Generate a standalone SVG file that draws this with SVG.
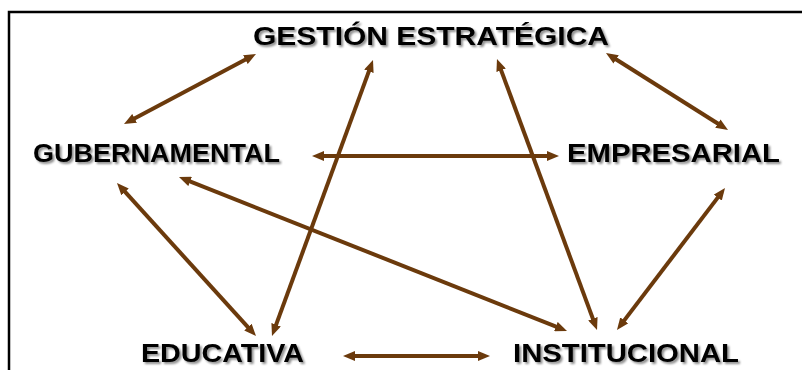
<svg xmlns="http://www.w3.org/2000/svg" width="802" height="370" viewBox="0 0 802 370">
<style>
.lbl{font-family:"Liberation Sans",Arial,sans-serif;font-weight:bold;font-size:25px;fill:#000;filter:url(#shadow)}
.con{stroke:#6b3a0c;stroke-width:4;fill:none;marker-start:url(#ah);marker-end:url(#ah)}
</style>
<defs>
<filter id="shadow" x="-5%" y="-30%" width="110%" height="160%">
<feGaussianBlur in="SourceAlpha" stdDeviation="0.8"/>
<feOffset dx="1.5" dy="1.5" result="b"/>
<feComponentTransfer in="b" result="g"><feFuncA type="linear" slope="0.45"/></feComponentTransfer>
<feMerge><feMergeNode in="g"/><feMergeNode in="SourceGraphic"/></feMerge>
</filter>
<marker id="ah" viewBox="0 0 12 10" refX="5" refY="5" markerWidth="12" markerHeight="10" markerUnits="userSpaceOnUse" orient="auto-start-reverse">
<path d="M0,0 L12,5 L0,10 z" fill="#6b3a0c"/>
</marker>
</defs>
<rect x="9" y="12" width="800" height="370" fill="#fff" stroke="#000" stroke-width="2.5"/>
<g id="connectors">
<line class="con" x1="130.2" y1="120.7" x2="249.8" y2="57.3"/>
<line class="con" x1="370.6" y1="66.6" x2="274.4" y2="329.4"/>
<line class="con" x1="499.4" y1="65.6" x2="594.6" y2="323.4"/>
<line class="con" x1="611.9" y1="56.7" x2="722.1" y2="126.3"/>
<line class="con" x1="319" y1="156" x2="552" y2="156"/>
<line class="con" x1="185.5" y1="179.6" x2="560.5" y2="328.4"/>
<line class="con" x1="121.7" y1="188.2" x2="251.3" y2="330.8"/>
<line class="con" x1="720.8" y1="193.6" x2="621.2" y2="324.4"/>
<line class="con" x1="350" y1="356" x2="483" y2="356"/>
</g>
<g id="gestion">
<text class="lbl" x="253" y="45" textLength="356" lengthAdjust="spacingAndGlyphs">GESTIÓN ESTRATÉGICA</text>
</g>
<g id="gubernamental">
<text class="lbl" x="33" y="162" textLength="247" lengthAdjust="spacingAndGlyphs">GUBERNAMENTAL</text>
</g>
<g id="empresarial">
<text class="lbl" x="567" y="162" textLength="213" lengthAdjust="spacingAndGlyphs">EMPRESARIAL</text>
</g>
<g id="educativa">
<text class="lbl" x="141" y="362" textLength="163" lengthAdjust="spacingAndGlyphs">EDUCATIVA</text>
</g>
<g id="institucional">
<text class="lbl" x="513" y="362" textLength="226" lengthAdjust="spacingAndGlyphs">INSTITUCIONAL</text>
</g>
</svg>
